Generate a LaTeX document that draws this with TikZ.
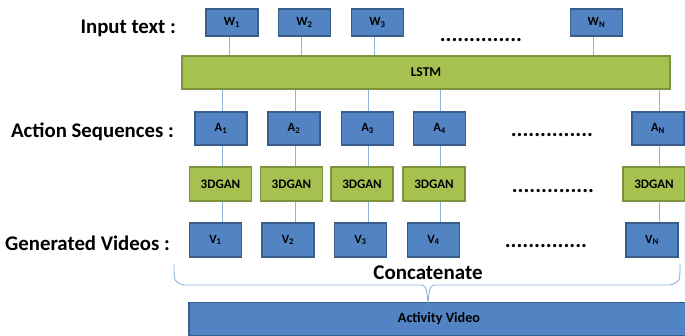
\documentclass[tikz,border=0pt]{standalone}
\usepackage{fontspec}
\setmainfont{Carlito}
\begin{document}
\begin{tikzpicture}[x=1pt,y=-1pt,
  bluebox/.style={draw=blueedge,fill=bluefill,line width=1.2pt,minimum width=52pt,minimum height=33pt,inner sep=0pt,
    font=\fontsize{12.5}{12.5}\selectfont\bfseries},
  greenbox/.style={draw=greenedge,fill=greenfill,line width=1.2pt,minimum width=62pt,minimum height=34pt,inner sep=0pt,
    font=\fontsize{13}{13}\selectfont\bfseries},
  rowlabel/.style={anchor=east,inner sep=0pt,font=\fontsize{20.8}{21}\selectfont\bfseries},
  dotrow/.style={inner sep=0pt,font=\fontsize{22}{22}\selectfont\bfseries},
  link/.style={draw=linkblue,line width=0.9pt}]
\definecolor{bluefill}{HTML}{5283C2}
\definecolor{blueedge}{HTML}{3A5E8C}
\definecolor{greenfill}{HTML}{A7C150}
\definecolor{greenedge}{HTML}{7D943F}
\definecolor{linkblue}{HTML}{8FB2DE}
\useasboundingbox (0,0) rectangle (685,335);

% row labels
\node[rowlabel] (lin) at (176,28) {Input text :};
\node[rowlabel] (lact) at (174,132) {Action Sequences :};
\node[rowlabel] (lvid) at (170,243) {Generated Videos :};

% input words
\node[bluebox,minimum height=27pt] (w1) at (232,22.5) {W\textsubscript{1}};
\node[bluebox,minimum height=27pt] (w2) at (304.5,22.5) {W\textsubscript{2}};
\node[bluebox,minimum height=27pt] (w3) at (377.5,22.5) {W\textsubscript{3}};
\node[bluebox,minimum height=27pt] (wn) at (596.5,22.5) {W\textsubscript{N}};
\node[dotrow] (dw) at (481,40) {..............};

% LSTM
\node[greenbox,minimum width=488pt,minimum height=33pt,font=\fontsize{13.5}{14}\selectfont\bfseries] (lstm) at (426,72.5) {LSTM};

% action sequences
\node[bluebox] (a1) at (221,128.5) {A\textsubscript{1}};
\node[bluebox] (a2) at (294,128.5) {A\textsubscript{2}};
\node[bluebox] (a3) at (367.5,128.5) {A\textsubscript{3}};
\node[bluebox] (a4) at (439.5,128.5) {A\textsubscript{4}};
\node[bluebox] (an) at (658,128.5) {A\textsubscript{N}};
\node[dotrow] (da) at (552,135) {..............};

% 3DGAN generators
\node[greenbox] (g1) at (220.5,184) {3DGAN};
\node[greenbox] (g2) at (291.5,184) {3DGAN};
\node[greenbox] (g3) at (362,184) {3DGAN};
\node[greenbox] (g4) at (434,184) {3DGAN};
\node[greenbox] (gn) at (654,184) {3DGAN};
\node[dotrow] (dg) at (553,191) {..............};

% generated videos
\node[bluebox,minimum height=34pt] (v1) at (215.5,240) {V\textsubscript{1}};
\node[bluebox,minimum height=34pt] (v2) at (288,240) {V\textsubscript{2}};
\node[bluebox,minimum height=34pt] (v3) at (360.5,240) {V\textsubscript{3}};
\node[bluebox,minimum height=34pt] (v4) at (433.5,240) {V\textsubscript{4}};
\node[bluebox,minimum height=34pt] (vn) at (652,240) {V\textsubscript{N}};
\node[dotrow] (dv) at (546,246) {..............};

% final output
\node[bluebox,minimum width=500pt,minimum height=33pt,font=\fontsize{14.2}{14}\selectfont\bfseries] (act) at (439,319) {Activity Video};
\node[inner sep=0pt,font=\fontsize{21}{21}\selectfont\bfseries] (cat) at (428,273) {Concatenate};

% words into LSTM
\foreach \w in {w1,w2,w3,wn}
  \path[link] ([xshift=-3pt]\w.south) -- ([xshift=-3pt]\w.south |- lstm.north);
% LSTM into action sequences
\foreach \a in {a1,a2,a3,a4,an}
  \path[link] ([xshift=1pt]\a.north |- lstm.south) -- ([xshift=1pt]\a.north);
% action sequences through 3DGAN to videos
\foreach \a/\g/\v in {a1/g1/v1,a2/g2/v2,a3/g3/v3,a4/g4/v4,an/gn/vn}{
  \path[link] ([xshift=1pt]\a.south) -- ([xshift=1pt]\a.south |- \g.north);
  \path[link] ([xshift=1pt]\a.south |- \g.south) -- ([xshift=1pt]\a.south |- \v.north);
}

% brace gathering the videos
\coordinate (bl) at (174,264);
\coordinate (br) at (680,264);
\coordinate (bt) at (428,302);
\draw[linkblue,line width=0.9pt]
  (bl) .. controls (174,282) .. (184,285) -- (418,285)
  .. controls (426,285) .. (bt)
  .. controls (430,285) .. (438,285) -- (670,285)
  .. controls (680,282) .. (br);
\end{tikzpicture}
\end{document}
